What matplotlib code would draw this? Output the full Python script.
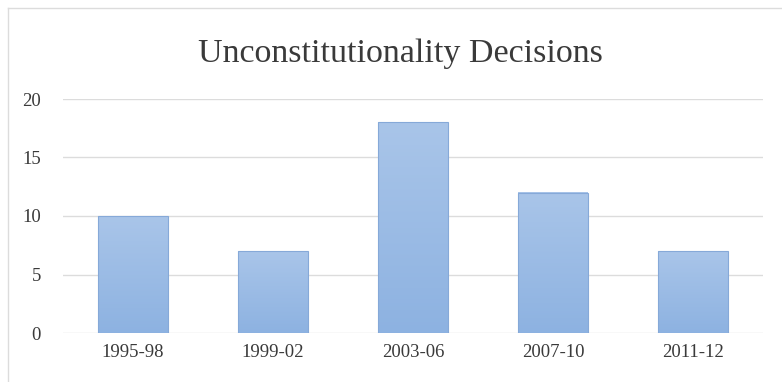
import numpy as np
import matplotlib.pyplot as plt
from matplotlib.colors import LinearSegmentedColormap
from matplotlib.lines import Line2D

periods = ['1995-98', '1999-02', '2003-06', '2007-10', '2011-12']
decisions = [10, 7, 18, 12, 7]
yticks = [0, 5, 10, 15, 20]

plt.rcParams['font.family'] = ['Liberation Serif', 'DejaVu Serif']

fig = plt.figure(figsize=(7.82, 3.82), dpi=100)
ax = fig.add_axes([63/782, 49/382, 700/782, 234/382])

# pale blue gradient, lighter at the top of each bar
cmap = LinearSegmentedColormap.from_list('bluefade', ['#8db2e1', '#a9c5e9'])
grad = np.linspace(0, 1, 256).reshape(-1, 1)

x = np.arange(len(periods))
width = 0.5
bars = ax.bar(x, decisions, width, color='none', edgecolor='#86a9d8',
              linewidth=0.8, zorder=3)
for b in bars:
    x0, h = b.get_x(), b.get_height()
    ax.imshow(grad, cmap=cmap, origin='lower', aspect='auto',
              extent=[x0, x0 + b.get_width(), 0, h], zorder=2)

ax.set_xlim(-0.5, len(periods) - 0.5)
ax.set_ylim(0, 20)
ax.set_yticks(yticks)
ax.set_xticks(x)
ax.set_xticklabels(periods)
ax.yaxis.grid(True, color='#dcdcdc', linewidth=1)
ax.set_axisbelow(True)
for s in ax.spines.values():
    s.set_visible(False)
ax.tick_params(length=0, labelsize=13.5, colors='#3a3a3a')
ax.tick_params(axis='y', pad=16)
ax.tick_params(axis='x', pad=8)

fig.text(0.512, 0.838, 'Unconstitutionality Decisions', ha='center',
         va='baseline', fontsize=24.5, color='#3a3a3a')

# thin chart frame along top and left edge
fig.add_artist(Line2D([8/782, 1], [1 - 8/382, 1 - 8/382], color='#dcdcdc', lw=1))
fig.add_artist(Line2D([8/782, 8/782], [0, 1 - 8/382], color='#dcdcdc', lw=1))

fig.savefig('out.png', dpi=100)
